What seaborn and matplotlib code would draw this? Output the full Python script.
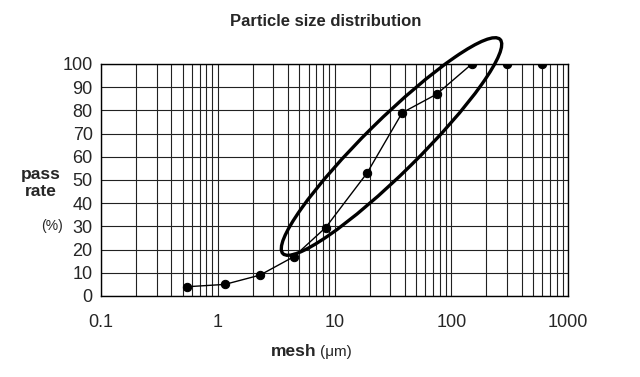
import numpy as np
import pandas as pd
import matplotlib.pyplot as plt
import seaborn as sns
from matplotlib.patches import Ellipse
from matplotlib.ticker import FixedLocator, NullFormatter

# data
mesh_um = [0.55, 1.15, 2.3, 4.5, 8.4, 19, 38, 75, 150, 300, 600]
pass_rate = [4, 5, 9, 17, 29.5, 53, 79, 87, 100, 100, 100]
x_ticks = [0.1, 1, 10, 100, 1000]
x_tick_labels = ["0.1", "1", "10", "100", "1000"]
y_ticks = list(range(0, 101, 10))

sns.set_style("white")
plt.rcParams['font.family'] = ['Liberation Sans', 'DejaVu Sans']

W, H = 640, 377
fig = plt.figure(figsize=(W / 100, H / 100), dpi=100)
ax = fig.add_axes([101 / W, 1 - 296 / H, (568 - 101) / W, (296 - 64) / H])

df = pd.DataFrame({'mesh': mesh_um, 'pass': pass_rate})
sns.lineplot(data=df, x='mesh', y='pass', ax=ax, color='black', lw=1.0,
             marker='o', markersize=6, markeredgecolor='black', zorder=5)

ax.set_xscale('log')
ax.set_xlim(0.1, 1000)
ax.set_ylim(0, 100)

# log paper grid
minor = [m * 10.0 ** e for e in range(-1, 3) for m in range(2, 10)]
ax.xaxis.set_major_locator(FixedLocator(x_ticks))
ax.xaxis.set_minor_locator(FixedLocator(minor))
ax.xaxis.set_minor_formatter(NullFormatter())
ax.set_xticklabels(x_tick_labels)
ax.set_yticks(y_ticks)
ax.grid(True, which='both', axis='x', color='#222222', lw=0.8)
ax.grid(True, which='major', axis='y', color='#222222', lw=0.8)
ax.tick_params(axis='both', which='both', length=0, labelsize=13)
ax.tick_params(axis='x', pad=13)
ax.tick_params(axis='y', pad=6)
for sp in ax.spines.values():
    sp.set_color('black')
    sp.set_linewidth(1.0)
ax.set_xlabel('')
ax.set_ylabel('')

# highlighted region, drawn in figure pixel space
def px(x, y):
    return x / 100, (H - y) / 100

cx, cy = px(391.5, 146.5)
ell = Ellipse((cx, cy), width=3.05, height=0.54, angle=44.6,
              transform=fig.dpi_scale_trans, fill=False, ec='black',
              lw=2.4, clip_on=False, zorder=6)
fig.add_artist(ell)

fig.text(326 / W, 1 - 22 / H, "Particle size distribution", ha='center',
         va='center', fontsize=12, fontweight='bold')
fig.text(41 / W, 1 - 183 / H, "pass\nrate", ha='center', va='center',
         fontsize=12.5, fontweight='bold', linespacing=1.1)
fig.text(52 / W, 1 - 226 / H, "(%)", ha='center', va='center', fontsize=10)
fig.text(316 / W, 1 - 352 / H, "mesh", ha='right', va='center',
         fontsize=12.5, fontweight='bold')
fig.text(320 / W, 1 - 352 / H, "(μm)", ha='left', va='center', fontsize=11)

fig.savefig("out.png", dpi=100)
